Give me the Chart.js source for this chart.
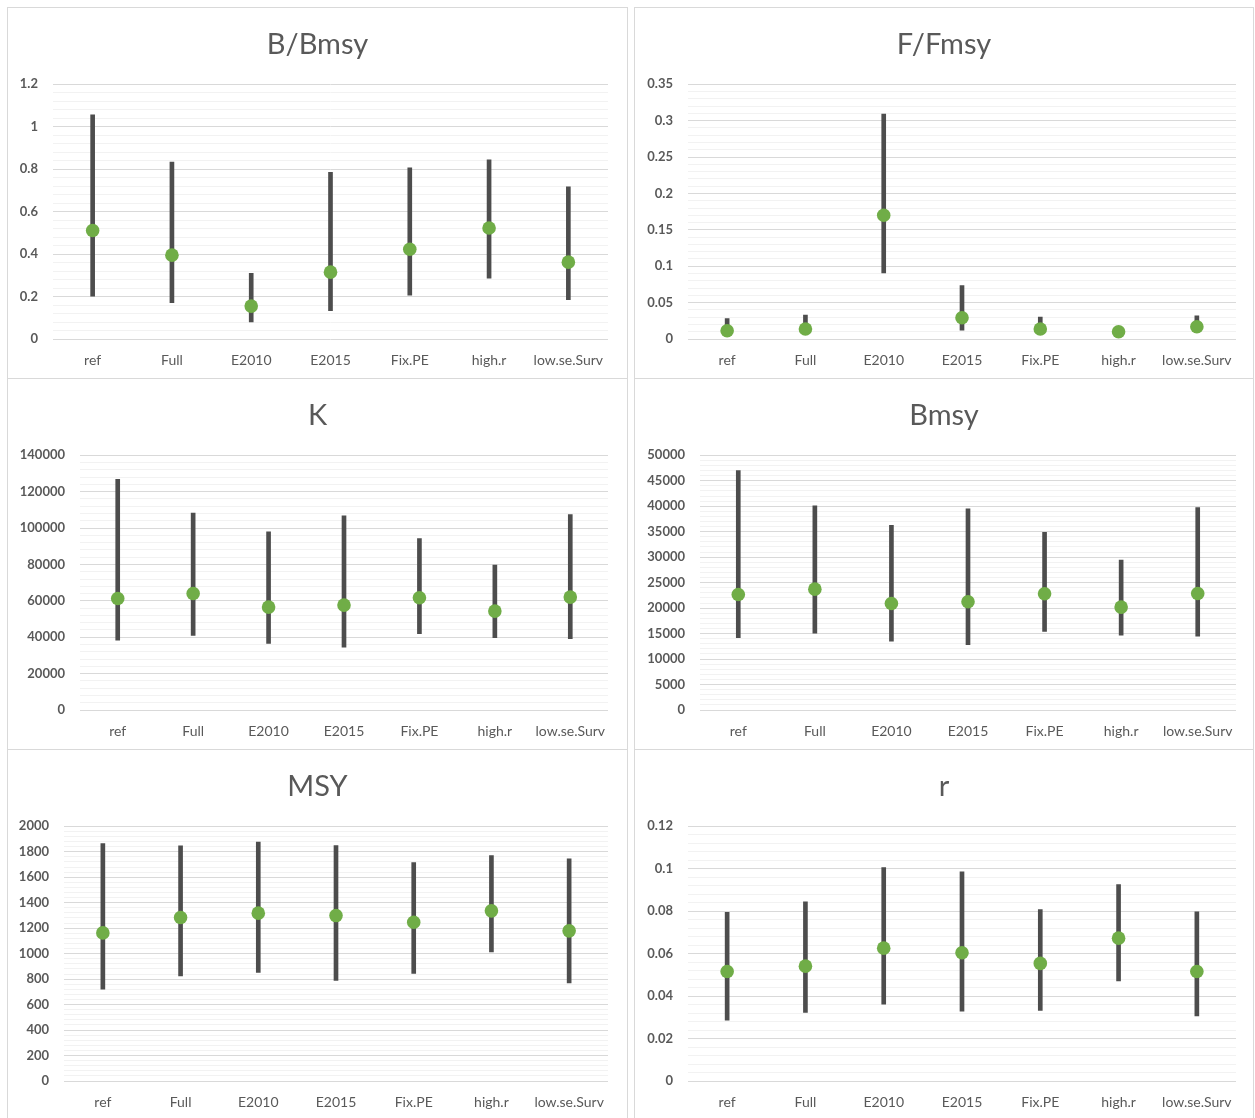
<!DOCTYPE html>
<html>
<head>
<meta charset="utf-8">
<script src="https://cdn.jsdelivr.net/npm/chart.js@4/dist/chart.umd.min.js"></script>
<style>
  html, body { margin: 0; padding: 0; background: #ffffff; }
  body { width: 1255px; height: 1118px; position: relative; overflow: hidden; }
  .panel { position: absolute; box-sizing: border-box; border: 1px solid #d9d9d9; background: #fff; }
  .panel canvas { position: absolute; left: 0; top: 0; }
</style>
</head>
<body>
<div class="panel" style="left:7px;top:7px;width:621px;height:372px"><canvas id="c1" width="619" height="370"></canvas></div>
<div class="panel" style="left:634px;top:7px;width:620px;height:372px"><canvas id="c2" width="618" height="370"></canvas></div>
<div class="panel" style="left:7px;top:378px;width:621px;height:372px"><canvas id="c3" width="619" height="370"></canvas></div>
<div class="panel" style="left:634px;top:378px;width:620px;height:372px"><canvas id="c4" width="618" height="370"></canvas></div>
<div class="panel" style="left:7px;top:749px;width:621px;height:372px"><canvas id="c5" width="619" height="370"></canvas></div>
<div class="panel" style="left:634px;top:749px;width:620px;height:372px"><canvas id="c6" width="618" height="370"></canvas></div>
<script>
// ---- Data ----
const categories = ['ref', 'Full', 'E2010', 'E2015', 'Fix.PE', 'high.r', 'low.se.Surv'];

const bbmsyMid  = [0.511, 0.395, 0.155, 0.315, 0.423, 0.523, 0.362];
const bbmsyLow  = [0.202, 0.171, 0.080, 0.133, 0.207, 0.287, 0.185];
const bbmsyHigh = [1.056, 0.833, 0.309, 0.785, 0.807, 0.844, 0.717];

const ffmsyMid  = [0.0114, 0.0137, 0.170, 0.0292, 0.0137, 0.0100, 0.0169];
const ffmsyLow  = [0.006, 0.007, 0.0908, 0.0123, 0.007, 0.006, 0.009];
const ffmsyHigh = [0.028, 0.033, 0.309, 0.0735, 0.030, 0.015, 0.032];

const kMid  = [61300, 64050, 56550, 57650, 61700, 54350, 62050];
const kLow  = [38400, 41000, 36600, 34600, 41900, 39700, 39200];
const kHigh = [126800, 108300, 97900, 106700, 94250, 79600, 107400];

const bmsyMid  = [22680, 23725, 20915, 21240, 22810, 20200, 22875];
const bmsyLow  = [14180, 15100, 13530, 12810, 15425, 14700, 14510];
const bmsyHigh = [47000, 40065, 36275, 39475, 34900, 29410, 39740];

const msyMid  = [1163, 1284, 1318, 1299, 1247, 1336, 1179];
const msyLow  = [722, 826, 852, 790, 844, 1014, 771];
const msyHigh = [1864, 1846, 1877, 1848, 1715, 1770, 1744];

const rMid  = [0.0516, 0.0541, 0.0626, 0.0604, 0.0554, 0.0673, 0.0516];
const rLow  = [0.0287, 0.0323, 0.0362, 0.0329, 0.0333, 0.0472, 0.0307];
const rHigh = [0.0795, 0.0844, 0.1005, 0.0985, 0.0808, 0.0925, 0.0797];

// axis ranges: [max, major step]
const bbmsyAxis = [1.2, 0.2];
const ffmsyAxis = [0.35, 0.05];
const kAxis     = [140000, 20000];
const bmsyAxis  = [50000, 5000];
const msyAxis   = [2000, 200];
const rAxis     = [0.12, 0.02];

// ---- Layout (styles only) ----
const panels = [
  { id: 'c1', title: 'B/Bmsy', mid: bbmsyMid, low: bbmsyLow, high: bbmsyHigh, axis: bbmsyAxis, plotLeft: 45, padR: 19 },
  { id: 'c2', title: 'F/Fmsy', mid: ffmsyMid, low: ffmsyLow, high: ffmsyHigh, axis: ffmsyAxis, plotLeft: 53, padR: 17 },
  { id: 'c3', title: 'K',      mid: kMid,     low: kLow,     high: kHigh,     axis: kAxis,     plotLeft: 72, padR: 19 },
  { id: 'c4', title: 'Bmsy',   mid: bmsyMid,  low: bmsyLow,  high: bmsyHigh,  axis: bmsyAxis,  plotLeft: 65, padR: 17 },
  { id: 'c5', title: 'MSY',    mid: msyMid,   low: msyLow,   high: msyHigh,   axis: msyAxis,   plotLeft: 56, padR: 19 },
  { id: 'c6', title: 'r',      mid: rMid,     low: rLow,     high: rHigh,     axis: rAxis,     plotLeft: 53, padR: 17 }
];

const TEXT = '#595959';

panels.forEach(p => {
  const max = p.axis[0], major = p.axis[1], minor = major / 5;
  const isMajor = v => Math.round(v / minor) % 5 === 0;
  new Chart(document.getElementById(p.id), {
    type: 'bar',
    data: {
      labels: categories,
      datasets: [
        {
          type: 'line',
          data: p.mid,
          showLine: false,
          pointRadius: 6.8,
          pointHoverRadius: 6.8,
          pointBackgroundColor: '#70ad47',
          pointBorderWidth: 0,
          borderColor: '#70ad47',
          order: 1
        },
        {
          type: 'bar',
          data: p.low.map((l, i) => [l, p.high[i]]),
          backgroundColor: '#4d4d4d',
          barThickness: 4,
          borderWidth: 0,
          borderSkipped: false,
          order: 2
        }
      ]
    },
    options: {
      responsive: false,
      animation: false,
      events: [],
      layout: { padding: 0 },
      plugins: {
        legend: { display: false },
        tooltip: { enabled: false },
        title: {
          display: true,
          text: p.title,
          color: TEXT,
          font: { family: 'Lato', size: 29, weight: '400' },
          padding: { top: 19.5, bottom: 22 }
        }
      },
      scales: {
        x: {
          grid: { display: false },
          border: { display: false },
          ticks: {
            color: TEXT,
            font: { family: 'Lato', size: 14 },
            padding: 5,
            maxRotation: 0,
            autoSkip: false
          },
          afterFit: s => { s.height = 39; s.paddingRight = p.padR; s.paddingLeft = 0; }
        },
        y: {
          min: 0,
          max: max,
          border: { display: false },
          grid: {
            drawTicks: false,
            lineWidth: 1,
            color: ctx => (ctx.tick && isMajor(ctx.tick.value)) ? '#d9d9d9' : '#f2f2f2'
          },
          ticks: {
            stepSize: minor,
            autoSkip: false,
            color: TEXT,
            padding: 15,
            font: { family: 'Lato', size: 13, weight: 'bold' },
            callback: v => {
              const k = Math.round(v / minor);
              return k % 5 === 0 ? String(+(k * minor).toFixed(6)) : '';
            }
          },
          afterFit: s => { s.width = p.plotLeft; }
        }
      }
    }
  });
});
</script>
</body>
</html>
